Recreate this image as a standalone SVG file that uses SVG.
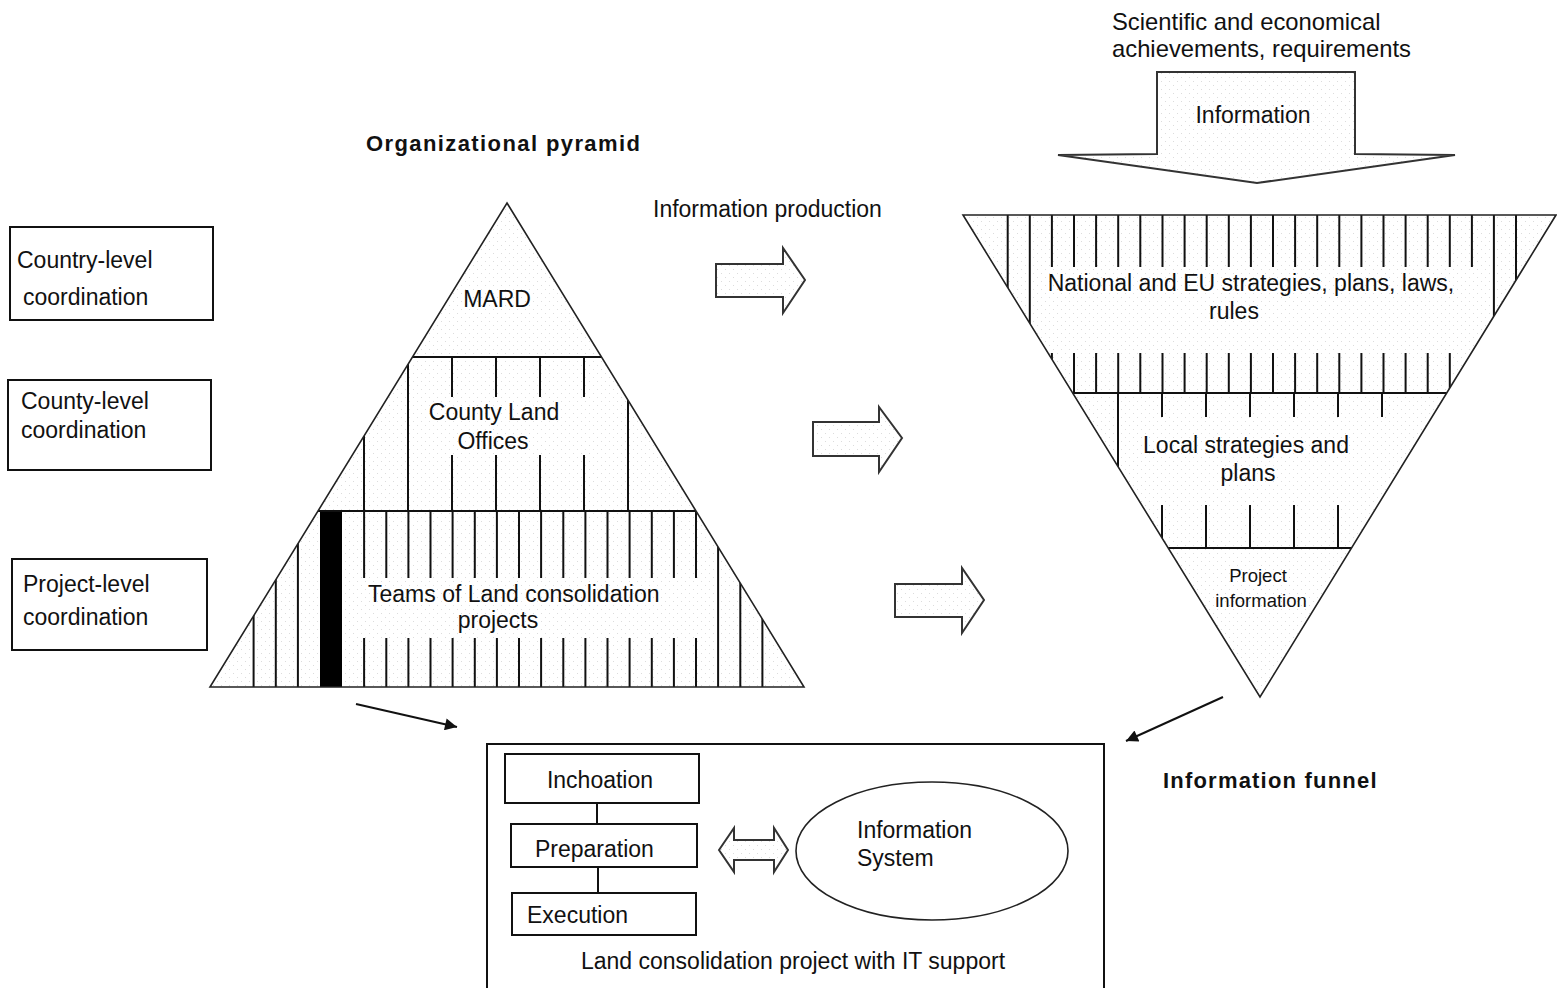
<svg xmlns="http://www.w3.org/2000/svg" width="1557" height="988" viewBox="0 0 1557 988">
<style>
text{font-family:"Liberation Sans",Arial,sans-serif;font-size:23px;fill:#111}
.b{font-weight:bold;font-size:22px}
.s{font-size:18.5px}
.t{font-size:23.8px}
.m{text-anchor:middle}
.box{fill:#fff;stroke:#111;stroke-width:2}
.out{fill:none;stroke:#222;stroke-width:1.6}
.hat{fill:none;stroke:#111;stroke-width:2}
.blk{fill:url(#dots);stroke:#333;stroke-width:2;stroke-linejoin:miter}
.con{fill:none;stroke:#111;stroke-width:2}
</style>
<defs>
<pattern id="dots" width="8" height="8" patternUnits="userSpaceOnUse">
<rect width="8" height="8" fill="#fff"/>
<rect x="1" y="1" width="1" height="1" fill="#dcdcdc"/>
<rect x="5" y="5" width="1" height="1" fill="#dcdcdc"/>
</pattern>
<clipPath id="pyrClip"><polygon points="507,203 804,687 210,687"/></clipPath>
<clipPath id="funClip"><polygon points="963,215 1556,215 1260,697"/></clipPath>
<marker id="ah" viewBox="0 0 10 10" refX="10" refY="5" markerWidth="15" markerHeight="12" markerUnits="userSpaceOnUse" orient="auto">
<path d="M0,0 L10,5 L0,10 z" fill="#111"/>
</marker>
</defs>
<rect width="1557" height="988" fill="#fff"/>

<!-- left level boxes -->
<g id="country-level">
<rect class="box" x="10" y="227" width="203" height="93"/>
<text x="17" y="268">Country-level</text>
<text x="23" y="305">coordination</text>
</g>
<g id="county-level">
<rect class="box" x="8" y="380" width="203" height="90"/>
<text x="21" y="409">County-level</text>
<text x="21" y="438">coordination</text>
</g>
<g id="project-level">
<rect class="box" x="12" y="559" width="195" height="91"/>
<text x="23" y="592">Project-level</text>
<text x="23" y="625">coordination</text>
</g>

<!-- pyramid -->
<g id="pyramid">
<text class="b" x="366" y="151" letter-spacing="1.4">Organizational pyramid</text>
<polygon points="507,203 804,687 210,687" fill="url(#dots)"/>
<g clip-path="url(#pyrClip)">
<path class="hat" d="M364,357V511 M408,357V511 M628,357V511
M452,357V397 M496,357V397 M540,357V397 M584,357V397
M452,455V511 M496,455V511 M540,455V511 M584,455V511
M253.6,511V687 M275.8,511V687 M297.9,511V687 M718.1,511V687 M740.3,511V687 M762.4,511V687
M364.1,511V578 M386.3,511V578 M408.4,511V578 M430.5,511V578 M452.6,511V578 M474.8,511V578 M496.9,511V578 M519,511V578 M541.1,511V578 M563.3,511V578 M585.4,511V578 M607.5,511V578 M629.6,511V578 M651.8,511V578 M673.9,511V578 M696,511V578
M364.1,638V687 M386.3,638V687 M408.4,638V687 M430.5,638V687 M452.6,638V687 M474.8,638V687 M496.9,638V687 M519,638V687 M541.1,638V687 M563.3,638V687 M585.4,638V687 M607.5,638V687 M629.6,638V687 M651.8,638V687 M673.9,638V687 M696,638V687"/>
</g>
<rect x="320" y="511" width="22" height="176" fill="#000"/>
<path class="hat" d="M412.5,357H601.5 M318,511H696"/>
<polygon class="out" points="507,203 804,687 210,687"/>
<text class="m" x="497" y="307">MARD</text>
<text class="m" x="494" y="420">County Land</text>
<text class="m" x="493" y="449">Offices</text>
<text x="368" y="602">Teams of Land consolidation</text>
<text class="m" x="498" y="628">projects</text>
</g>

<!-- information input arrow -->
<g id="info-input">
<text class="t" x="1112" y="30">Scientific and economical</text>
<text class="t" x="1112" y="57">achievements, requirements</text>
<polygon class="blk" points="1157,72 1355,72 1355,154 1455,155 1257,183 1058,155 1157,154"/>
<text class="m" x="1253" y="123">Information</text>
</g>

<!-- funnel -->
<g id="funnel">
<polygon points="963,215 1556,215 1260,697" fill="url(#dots)"/>
<g clip-path="url(#funClip)">
<path class="hat" d="M1007.7,215V393 M1029.8,215V393 M1493.9,215V393 M1516,215V393
M1051.9,215V267 M1074,215V267 M1096.1,215V267 M1118.2,215V267 M1140.3,215V267 M1162.5,215V267 M1184.6,215V267 M1206.7,215V267 M1228.8,215V267 M1250.9,215V267 M1273,215V267 M1295.1,215V267 M1317.2,215V267 M1339.3,215V267 M1361.4,215V267 M1383.5,215V267 M1405.6,215V267 M1427.7,215V267 M1449.8,215V267 M1471.9,215V267
M1051.9,353V393 M1074,353V393 M1096.1,353V393 M1118.2,353V393 M1140.3,353V393 M1162.5,353V393 M1184.6,353V393 M1206.7,353V393 M1228.8,353V393 M1250.9,353V393 M1273,353V393 M1295.1,353V393 M1317.2,353V393 M1339.3,353V393 M1361.4,353V393 M1383.5,353V393 M1405.6,353V393 M1427.7,353V393 M1449.8,353V393 M1471.9,353V393
M1118,393V548
M1162,393V417 M1206,393V417 M1250,393V417 M1294,393V417 M1338,393V417 M1382,393V417
M1162,505V548 M1206,505V548 M1250,505V548 M1294,505V548 M1338,505V548 M1382,505V548"/>
</g>
<path class="hat" d="M1072.7,393H1446.7 M1168.2,548H1351.5"/>
<polygon class="out" points="963,215 1556,215 1260,697"/>
<text class="m" x="1251" y="291" font-size="23.5">National and EU strategies, plans, laws,</text>
<text class="m" x="1234" y="319">rules</text>
<text class="m" x="1246" y="453">Local strategies and</text>
<text class="m" x="1248" y="481">plans</text>
<text class="m s" x="1258" y="582">Project</text>
<text class="m s" x="1261" y="607">information</text>
<text class="b" x="1163" y="788" letter-spacing="1.2">Information funnel</text>
</g>

<!-- information production arrows -->
<g id="production-arrows">
<text x="653" y="217" font-size="23.4">Information production</text>
<polygon class="blk" points="716,264 783,264 783,248 805,280 783,313 783,297 716,297"/>
<polygon class="blk" points="813,422 879,422 879,407 902,438 879,472 879,456 813,456"/>
<polygon class="blk" points="895,584 962,584 962,568 984,600 962,633 962,617 895,617"/>
</g>

<!-- land consolidation project box -->
<g id="project-box">
<path class="con" d="M487,990V744H1104V990"/>
<text class="m" x="793" y="969">Land consolidation project with IT support</text>
</g>
<g id="inchoation">
<rect class="box" x="505" y="754" width="194" height="49"/>
<text class="m" x="600" y="788">Inchoation</text>
</g>
<g id="preparation">
<rect class="box" x="511" y="824" width="186" height="43"/>
<text x="535" y="857">Preparation</text>
</g>
<g id="execution">
<rect class="box" x="512" y="893" width="184" height="42"/>
<text x="527" y="923">Execution</text>
</g>
<g id="information-system">
<ellipse cx="932" cy="851" rx="136" ry="69" fill="#fff" stroke="#222" stroke-width="1.6"/>
<text x="857" y="838">Information</text>
<text x="857" y="866">System</text>
</g>
<g id="exchange-arrow">
<polygon class="blk" points="719,850 734,828 734,840 774,840 774,828 788,850 774,872 774,860 734,860 734,872"/>
</g>

<!-- connectors -->
<g id="connectors">
<path class="con" d="M597,803V824 M598,867V893"/>
<line class="con" x1="356" y1="704" x2="457" y2="727" marker-end="url(#ah)"/>
<line class="con" x1="1223" y1="697" x2="1126" y2="741" marker-end="url(#ah)"/>
</g>
</svg>
